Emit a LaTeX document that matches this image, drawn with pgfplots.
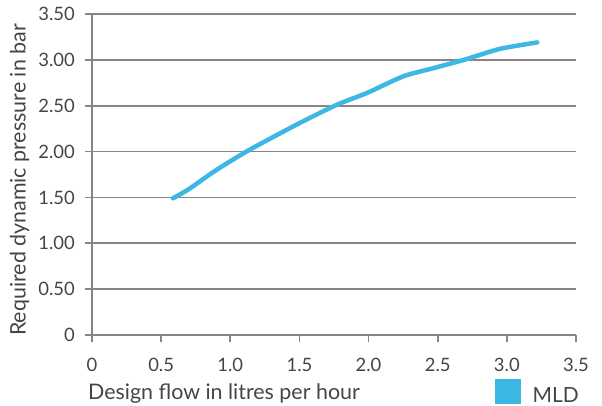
\documentclass[border=0pt]{standalone}
\usepackage{fontspec}
\setmainfont{Lato}
\usepackage{pgfplots}
\pgfplotsset{compat=1.18}
\definecolor{mld}{HTML}{3DB7E4}
\definecolor{gridc}{HTML}{8A8580}
\definecolor{txt}{HTML}{454545}
\begin{document}
\begin{tikzpicture}
\useasboundingbox (0bp,0bp) rectangle (602bp,406bp);
\begin{axis}[
  at={(92bp,71bp)}, anchor=south west,
  scale only axis, width=484bp, height=321bp,
  xmin=0, xmax=3.5, ymin=0, ymax=3.5,
  axis lines=left,
  axis line style={-, draw=gridc, line width=1.6bp},
  xtick={0,0.5,1,1.5,2,2.5,3,3.5},
  xticklabels={0,0.5,1.0,1.5,2.0,2.5,3.0,3.5},
  ytick={0,0.5,1,1.5,2,2.5,3,3.5},
  yticklabels={0,0.50,1.00,1.50,2.00,2.50,3.00,3.50},
  ymajorgrids,
  major grid style={draw=gridc, line width=1.6bp},
  tick align=outside, major tick length=7bp,
  every tick/.style={draw=gridc, line width=1.6bp},
  tick label style={font=\fontsize{18.5}{22}\selectfont, text=txt},
  yticklabel style={anchor=east, inner sep=0pt, xshift=-10bp},
  xticklabel style={anchor=base, inner sep=0pt, yshift=-29bp},
  ylabel={Required dynamic pressure in bar},
  ylabel style={at={(axis description cs:-0.1498,0.483)}, anchor=center, font=\fontsize{21.5}{25}\selectfont, text=txt},
  xlabel={Design flow in litres per hour},
  xlabel style={at={(axis description cs:0,0)}, anchor=base west, inner sep=0pt, xshift=-4bp, yshift=-64bp, font=\fontsize{21.5}{25}\selectfont, text=txt},
  legend style={at={(axis description cs:1,0)}, anchor=base east, xshift=4bp, yshift=-61bp, draw=none, fill=none, inner sep=0pt, font=\fontsize{21}{24}\selectfont, text=txt,
    nodes={inner sep=1bp},
    /tikz/every odd column/.append style={column sep=11bp}},
  legend image code/.code={\fill[mld] (0bp,-6bp) rectangle (21bp,15bp);},
]
\addplot[mld, line width=4.5bp, line cap=round, smooth, tension=0.4] coordinates {
(0.585,1.49) (0.70,1.59) (0.90,1.80) (1.14,2.02) (1.50,2.31) (1.77,2.51)
(1.99,2.64) (2.25,2.82) (2.47,2.91) (2.69,3.00) (2.95,3.12) (3.22,3.19)
};
\addlegendentry{MLD}
\end{axis}
\end{tikzpicture}
\end{document}
